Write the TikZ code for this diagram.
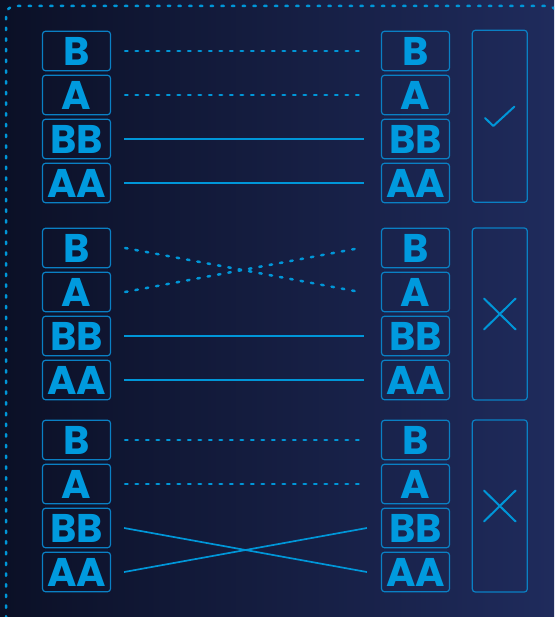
\documentclass[tikz,border=0pt]{standalone}
\usepackage{fontspec}
\setmainfont{Poppins}
\usetikzlibrary{calc}
\definecolor{bgL}{RGB}{11,16,38}
\definecolor{bgR}{RGB}{31,43,92}
\definecolor{cyanln}{RGB}{0,150,216}
\definecolor{boxln}{RGB}{10,128,196}
\definecolor{txt}{RGB}{0,154,222}
\tikzset{
  letterbox/.style={draw=boxln, line width=1.2pt, rounded corners=3pt, minimum width=68pt, minimum height=39.5pt, inner sep=0pt, text=txt, font=\fontsize{40}{40}\selectfont\bfseries},
  resultbox/.style={draw=boxln, line width=1.2pt, rounded corners=3pt, minimum width=55pt, minimum height=172pt, inner sep=0pt},
  dashconn/.style={draw=cyanln, line width=2.5pt, line cap=round, dash pattern=on 2.5pt off 8pt},
  solidconn/.style={draw=cyanln, line width=1.7pt},
  markln/.style={draw=cyanln, line width=2pt, line cap=round, line join=round},
  frameln/.style={draw=cyanln, line width=2.5pt, line cap=round, dash pattern=on 2.5pt off 8.2pt, rounded corners=9pt}
}
\begin{document}
\begin{tikzpicture}[x=1pt,y=-1pt]
\useasboundingbox (0,0) rectangle (554,617);
\shade[left color=bgL, right color=bgR] (0,0) rectangle (554,617);
\begin{scope}
\clip (0,0) rectangle (554,617);
\draw[frameln] (6,640) -- (6,6) -- (557,6) -- (557,640);
\end{scope}
% group 1
\node[letterbox] (l1B) at (76.5,51) {B};
\node[letterbox] (l1A) at (76.5,95) {A};
\node[letterbox] (l1BB) at (76.5,139) {BB};
\node[letterbox] (l1AA) at (76.5,183) {AA};
\node[letterbox] (r1B) at (415.5,51) {B};
\node[letterbox] (r1A) at (415.5,95) {A};
\node[letterbox] (r1BB) at (415.5,139) {BB};
\node[letterbox] (r1AA) at (415.5,183) {AA};
\node[resultbox] (res1) at (499.8,116.3) {};
% group 2
\node[letterbox] (l2B) at (76.5,248) {B};
\node[letterbox] (l2A) at (76.5,292) {A};
\node[letterbox] (l2BB) at (76.5,336) {BB};
\node[letterbox] (l2AA) at (76.5,380) {AA};
\node[letterbox] (r2B) at (415.5,248) {B};
\node[letterbox] (r2A) at (415.5,292) {A};
\node[letterbox] (r2BB) at (415.5,336) {BB};
\node[letterbox] (r2AA) at (415.5,380) {AA};
\node[resultbox] (res2) at (499.8,314) {};
% group 3
\node[letterbox] (l3B) at (76.5,440) {B};
\node[letterbox] (l3A) at (76.5,484) {A};
\node[letterbox] (l3BB) at (76.5,528) {BB};
\node[letterbox] (l3AA) at (76.5,572) {AA};
\node[letterbox] (r3B) at (415.5,440) {B};
\node[letterbox] (r3A) at (415.5,484) {A};
\node[letterbox] (r3BB) at (415.5,528) {BB};
\node[letterbox] (r3AA) at (415.5,572) {AA};
\node[resultbox] (res3) at (499.8,506) {};
% connectors group 1
\draw[dashconn] ([xshift=14pt]l1B.east) -- ([xshift=-18pt]r1B.west);
\draw[dashconn] ([xshift=14pt]l1A.east) -- ([xshift=-18pt]r1A.west);
\draw[solidconn] ([xshift=13pt]l1BB.east) -- ([xshift=-17pt]r1BB.west);
\draw[solidconn] ([xshift=13pt]l1AA.east) -- ([xshift=-17pt]r1AA.west);
% connectors group 2
\draw[dashconn] ([xshift=14pt]l2B.east) -- ([xshift=-21pt]r2A.west);
\draw[dashconn] ([xshift=14pt]l2A.east) -- ([xshift=-21pt]r2B.west);
\draw[solidconn] ([xshift=13pt]l2BB.east) -- ([xshift=-17pt]r2BB.west);
\draw[solidconn] ([xshift=13pt]l2AA.east) -- ([xshift=-17pt]r2AA.west);
% connectors group 3
\draw[dashconn] ([xshift=14pt]l3B.east) -- ([xshift=-18pt]r3B.west);
\draw[dashconn] ([xshift=14pt]l3A.east) -- ([xshift=-18pt]r3A.west);
\draw[solidconn] ([xshift=13pt]l3BB.east) -- ([xshift=-14pt]r3AA.west);
\draw[solidconn] ([xshift=13pt]l3AA.east) -- ([xshift=-14pt]r3BB.west);
% marks
\draw[markln] ([shift={(-14.8,1.7)}]res1.center) -- ([shift={(-6.5,9.7)}]res1.center) -- ([shift={(14.5,-9.6)}]res1.center);
\draw[markln] ([shift={(-15.8,-15.5)}]res2.center) -- ([shift={(15.8,15.5)}]res2.center);
\draw[markln] ([shift={(-15.8,15.5)}]res2.center) -- ([shift={(15.8,-15.5)}]res2.center);
\draw[markln] ([shift={(-15.8,-15.5)}]res3.center) -- ([shift={(15.8,15.5)}]res3.center);
\draw[markln] ([shift={(-15.8,15.5)}]res3.center) -- ([shift={(15.8,-15.5)}]res3.center);
\end{tikzpicture}
\end{document}
